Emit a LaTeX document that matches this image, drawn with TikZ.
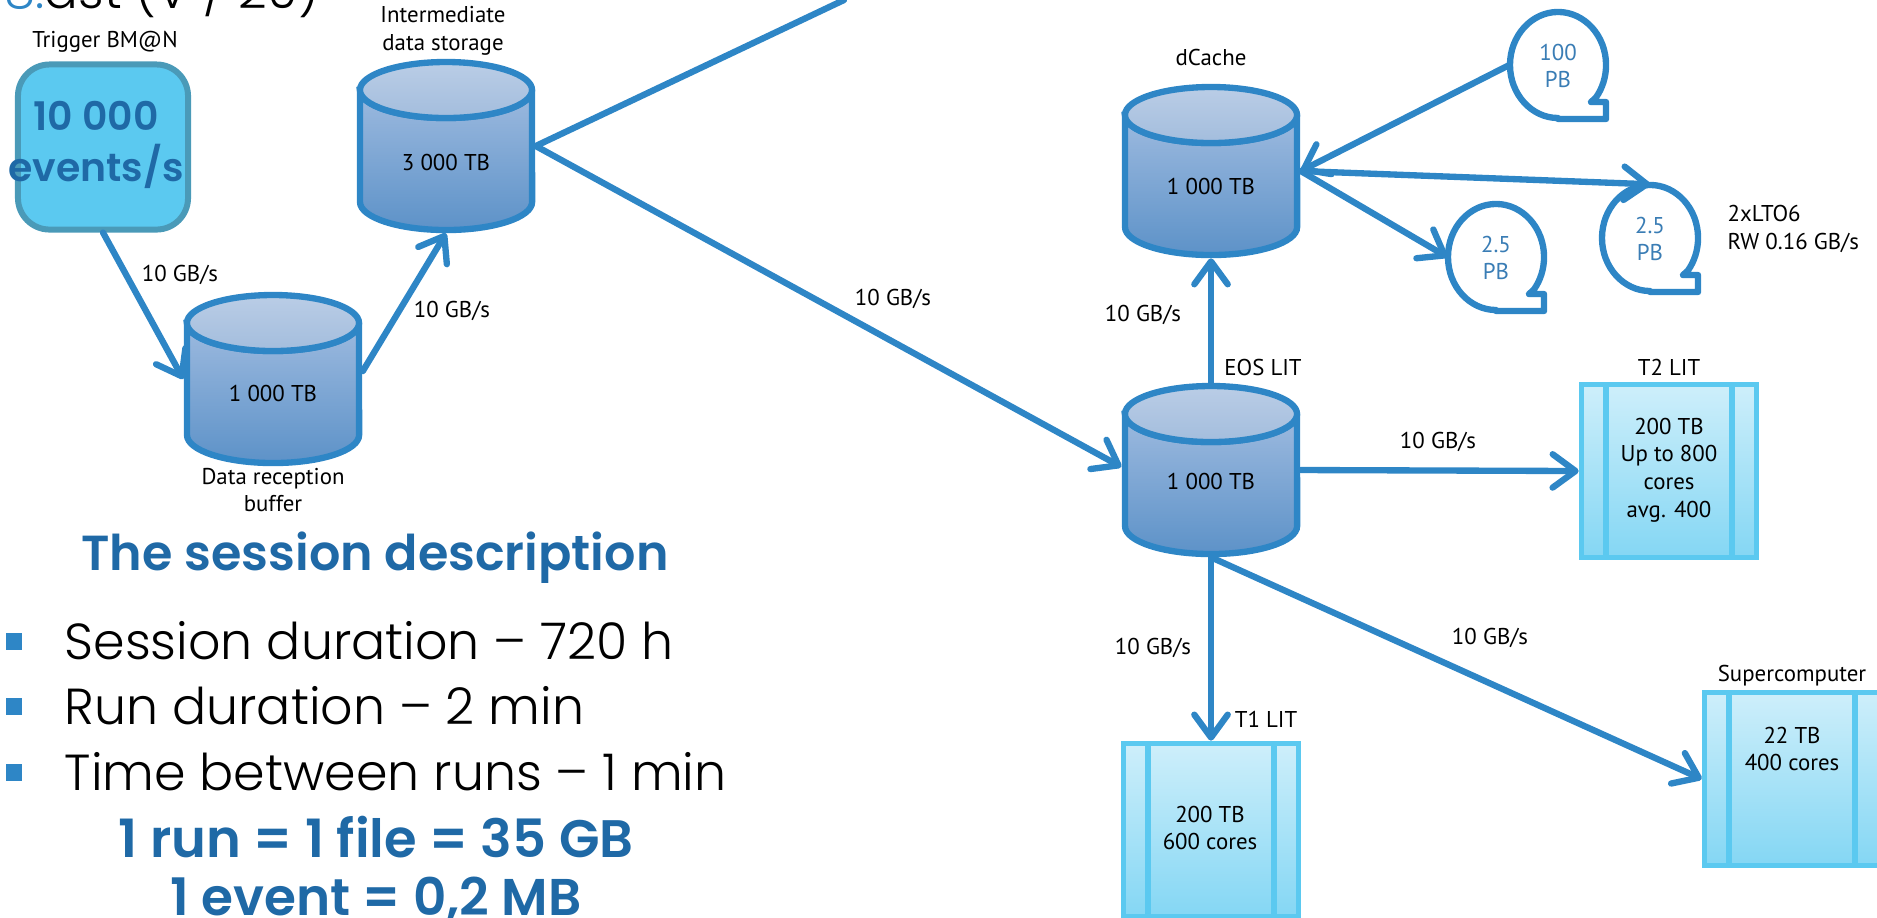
\documentclass[tikz,border=0pt]{standalone}
\usepackage{fontspec}
\setmainfont{PT Sans}
\newfontfamily\gothic{Poppins Light}
\newfontfamily\gothicbold{Poppins SemiBold}
\usetikzlibrary{arrows.meta}
\definecolor{flowblue}{HTML}{2E86C6}
\definecolor{headblue}{HTML}{1F69A6}
\definecolor{skyblue}{HTML}{5BC9F0}
\definecolor{tealedge}{HTML}{4A9AB8}
\definecolor{tapetext}{HTML}{3A7DB5}
\definecolor{captop}{HTML}{BACDE6}
\definecolor{capbot}{HTML}{A3BDDD}
\definecolor{bodytop}{HTML}{9DBADF}
\definecolor{bodybot}{HTML}{5D92C8}
\tikzset{
  flow/.style={draw=flowblue,line width=1.8pt,line cap=round,-{Straight Barb[length=6.5pt,width=9.5pt,line width=1.8pt,round]}},
  lbl/.style={font=\fontsize{6.5}{7.9}\selectfont,align=center,inner sep=0pt,text=black},
  tapelbl/.style={lbl,text=tapetext},
  bold/.style={text=headblue,align=center,inner sep=0pt},
  plain/.style={font=\fontsize{14.4}{16}\gothic,text=black,anchor=west,inner sep=0pt},
  cylnode/.style={minimum width=1.78cm,minimum height=1.73cm,inner sep=0pt},
  boxnode/.style={minimum width=1.75cm,minimum height=1.73cm,inner sep=0pt},
  tapenode/.style={minimum width=0.96cm,minimum height=1.06cm,inner sep=0pt},
}
\begin{document}
\begin{tikzpicture}[x=0.01cm,y=-0.01cm]
    \useasboundingbox (0,0) rectangle (1877,917);
    \clip (0,0) rectangle (1877,917);
    % cut off title
    \node[font=\fontsize{14.2}{16}\gothic,anchor=base west,inner sep=0pt] (title) at (4,8)
        {\textcolor{flowblue}{8.}dst (V / 20)};
    % trigger
    \node[draw=tealedge,fill=skyblue,line width=1.7pt,rounded corners=9pt,
        minimum width=1.7cm,minimum height=1.65cm] (trigger) at (103,147) {};
    \node[lbl] (triggerlbl) at (105,42) {Trigger BM@N};
    \node[bold,font=\fontsize{11.2}{14.5}\gothicbold] (rate) at (96,145) {10 000\\events/s};
    % disks
    \foreach \nm/\x/\y/\size/\tx/\ty in {inter/446/146/3 000 TB/446/162,
        buffer/273/379/1 000 TB/273/393,dcache/1211/171/1 000 TB/1211/186,
        eos/1211/470/1 000 TB/1211/481}{
      \node[cylnode] (\nm) at (\x,\y) {};
      \draw[top color=bodytop,bottom color=bodybot,draw=flowblue,line width=1.8pt]
          (\x-86,\y-56) -- (\x-86,\y+56)
          arc[start angle=180,end angle=360,x radius=0.86cm,y radius=0.28cm]
          -- (\x+86,\y-56)
          arc[start angle=0,end angle=-180,x radius=0.86cm,y radius=0.28cm] -- cycle;
      \draw[draw=flowblue,line width=1.8pt,top color=captop,bottom color=capbot]
          (\x,\y-56) ellipse [x radius=0.86cm,y radius=0.28cm];
      \node[lbl] (\nm txt) at (\tx,\ty) {\size};
    }
    % clusters
    \foreach \nm/\x/\y/\tx/\ty/\txt in {tii/1669/471/1669/470/{200 TB\\Up to 800\\cores\\avg. 400},
        ti/1211/830/1210/828/{200 TB\\600 cores},super/1792/779/1792/749/{22 TB\\400 cores}}{
      \node[boxnode,draw=skyblue,line width=1.6pt,top color=skyblue!30,bottom color=skyblue!75] (\nm) at (\x,\y) {};
      \draw[skyblue,line width=1.6pt] (\x-63,\y-86) -- (\x-63,\y+86) (\x+63,\y-86) -- (\x+63,\y+86);
      \node[lbl] (\nm txt) at (\tx,\ty) {\txt};
    }
    % tapes
    \foreach \nm/\x/\y/\txt in {tapea/1558/65/100,tapeb/1496/257/2.5,tapec/1650/238/2.5}{
      \node[tapenode] (\nm) at (\x,\y) {};
      \draw[flowblue,line width=1.8pt,fill=white,line join=round]
          (\x,\y+53) arc[start angle=-90,end angle=-398,x radius=0.48cm,y radius=0.53cm]
          -- (\x+33,\y+37) -- (\x+48,\y+37) -- (\x+48,\y+54) -- (\x,\y+54) -- cycle;
      \node[tapelbl] (\nm txt) at (\x,\y+1) {\txt\\PB};
    }
    \coordinate (offtop) at (844,0);
    % connectors
    \draw[flow] (trigger.south) -- (buffer.west);
    \draw[flow] (buffer.5) -- (inter.south);
    \draw[flow,-] (inter.east) -- (offtop);
    \draw[flow] (inter.east) -- (eos.178);
    \draw[flow] (eos.north) -- (dcache.south);
    \draw[flow] (tapea.west) -- (dcache.east);
    \draw[flow] (dcache.east) -- (tapeb.west);
    \draw[flow] (dcache.east) -- (tapec.north);
    \draw[flow] (eos.east) -- (tii.west);
    \draw[flow] (eos.south) -- (ti.north);
    \draw[flow] (eos.south) -- (super.west);
    % captions
    \node[lbl] (interlbl) at (443,31) {Intermediate\\data storage};
    \node[lbl] (bufferlbl) at (273,490) {Data reception\\buffer};
    \node[lbl] (dcachelbl) at (1211,57) {dCache};
    \node[lbl] (eoslbl) at (1263,367) {EOS LIT};
    \node[lbl] (tiilbl) at (1669,367) {T2 LIT};
    \node[lbl] (tilbl) at (1266,719) {T1 LIT};
    \node[lbl] (superlbl) at (1792,676) {Supercomputer};
    \node[lbl,align=left,anchor=west] (ltolbl) at (1727,229) {2xLTO6\\RW 0.16 GB/s};
    % rates
    \foreach \nm/\x/\y in {ra/180/275,rb/452/311,rc/893/299,rd/1143/315,re/1438/442,rf/1153/648,rg/1490/638}
      \node[lbl] (\nm) at (\x,\y) {10 GB/s};
    % session text
    \node[bold,font=\fontsize{14}{16}\gothicbold] (head) at (375,558) {The session description};
    \foreach \nm/\y/\txt in {sa/641/Session duration – 720 h,sb/706/Run duration – 2 min,sc/772/Time between runs – 1 min}{
      \node[plain] (\nm) at (64,\y) {\txt};
      \node[fill=flowblue,minimum width=0.15cm,minimum height=0.17cm,inner sep=0pt] (\nm b) at (14,\y) {};
    }
    \node[bold,font=\fontsize{15}{17}\gothicbold] (runsize) at (376,837) {1 run = 1 file = 35 GB};
    \node[bold,font=\fontsize{14.7}{17}\gothicbold] (eventsize) at (376,900) {1 event = 0,2 MB};
\end{tikzpicture}
\end{document}
